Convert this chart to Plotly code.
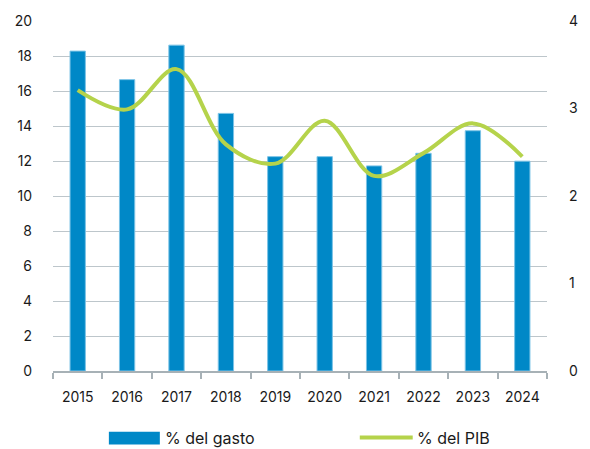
import plotly.graph_objects as go

years = ["2015", "2016", "2017", "2018", "2019", "2020", "2021", "2022", "2023", "2024"]
pct_gasto = [18.28, 16.65, 18.62, 14.72, 12.25, 12.25, 11.72, 12.44, 13.73, 11.99]
pct_pib = [3.21, 2.99, 3.45, 2.59, 2.37, 2.86, 2.23, 2.49, 2.83, 2.45]

label_gasto = "% del gasto"
label_pib = "% del PIB"

BAR_COLOR = "#0088C7"
LINE_COLOR = "#B5D34B"
GRID_COLOR = "#BDC6CB"
AXIS_COLOR = "#A7B1B6"
TEXT_COLOR = "#1A1A1A"
FONT = "Inter, Lato, sans-serif"

fig = go.Figure()

fig.add_trace(go.Bar(
    x=years, y=pct_gasto, name=label_gasto,
    marker=dict(color=BAR_COLOR, line=dict(color="#7CC3E6", width=1)),
    width=0.31, showlegend=False,
))

fig.add_trace(go.Scatter(
    x=years, y=pct_pib, name=label_pib, yaxis="y2",
    mode="lines", line=dict(color=LINE_COLOR, width=4, shape="spline", smoothing=1.0),
    showlegend=False,
))

# hand-built legend below the plot
fig.add_shape(type="rect", xref="paper", yref="paper",
              x0=(110 - 53) / 504, x1=(162 - 53) / 504,
              y0=-(432 - 371) / 352, y1=-(445 - 371) / 352,
              fillcolor=BAR_COLOR, line=dict(width=0))
fig.add_shape(type="line", xref="paper", yref="paper",
              x0=(366 - 53) / 504, x1=(420 - 53) / 504,
              y0=-(438 - 371) / 352, y1=-(438 - 371) / 352,
              line=dict(color=LINE_COLOR, width=4))
fig.add_annotation(text=label_gasto, xref="paper", yref="paper",
                   x=(165 - 53) / 504, y=-(438 - 371) / 352,
                   xanchor="left", yanchor="middle", showarrow=False,
                   font=dict(family=FONT, size=16, color=TEXT_COLOR))
fig.add_annotation(text=label_pib, xref="paper", yref="paper",
                   x=(422 - 53) / 504, y=-(438 - 371) / 352,
                   xanchor="left", yanchor="middle", showarrow=False,
                   font=dict(family=FONT, size=16, color=TEXT_COLOR))

fig.update_layout(
    width=590, height=449,
    margin=dict(l=53, r=33, t=19, b=78),
    paper_bgcolor="white", plot_bgcolor="white",
    font=dict(family=FONT, size=14, color=TEXT_COLOR),
    bargap=0.69,
    xaxis=dict(
        type="category", showgrid=False, showline=True,
        linecolor=AXIS_COLOR, linewidth=1.5,
        ticks="outside", tickson="boundaries", ticklen=6,
        tickcolor=AXIS_COLOR, tickwidth=1.5,
        ticklabelstandoff=12, tickfont=dict(size=14),
    ),
    yaxis=dict(
        range=[0, 20], dtick=2, showgrid=True, gridcolor=GRID_COLOR, gridwidth=1.2,
        zeroline=False, showline=False, ticks="", ticklabelstandoff=20,
        tickfont=dict(size=14),
    ),
    yaxis2=dict(
        range=[0, 4], dtick=1, overlaying="y", side="right",
        showgrid=False, zeroline=False, showline=False, ticks="",
        ticklabelstandoff=21, tickfont=dict(size=14),
    ),
)

fig.write_html("out.html")
